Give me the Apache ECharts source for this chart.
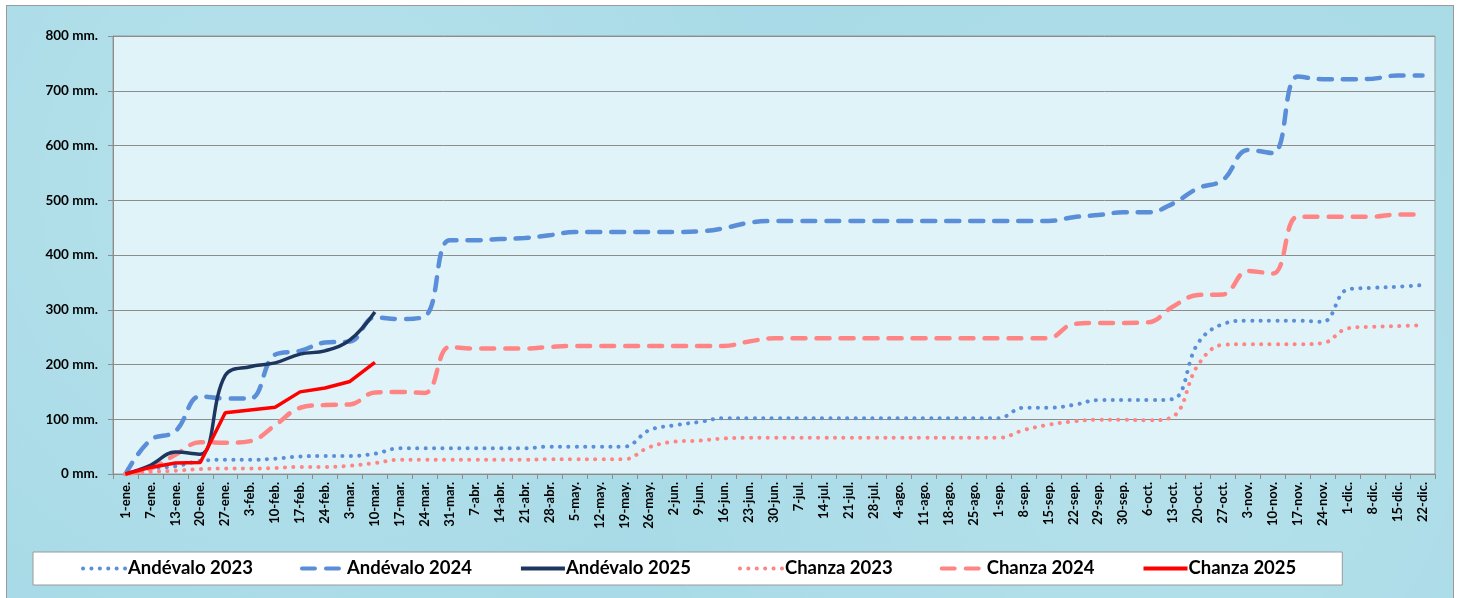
<!DOCTYPE html>
<html>
<head>
<meta charset="utf-8">
<script src="https://cdn.jsdelivr.net/npm/echarts@6/dist/echarts.min.js"></script>
<style>
html,body{margin:0;padding:0;background:#ffffff;}
#frame{position:absolute;left:6px;top:5px;width:1446px;height:600px;border:1px solid #9a9a9a;background:#a8dbe7;
 background-image:radial-gradient(circle at 20% 30%, rgba(255,255,255,0.18) 0, rgba(255,255,255,0) 40%),radial-gradient(circle at 80% 70%, rgba(255,255,255,0.15) 0, rgba(255,255,255,0) 45%);}
#chart{position:absolute;left:0;top:0;width:1459px;height:598px;}
</style>
</head>
<body>
<div id="frame"></div>
<div id="chart"></div>
<script>
const categories = ['1-ene.','7-ene.','13-ene.','20-ene.','27-ene.','3-feb.','10-feb.','17-feb.','24-feb.','3-mar.','10-mar.','17-mar.','24-mar.','31-mar.','7-abr.','14-abr.','21-abr.','28-abr.','5-may.','12-may.','19-may.','26-may.','2-jun.','9-jun.','16-jun.','23-jun.','30-jun.','7-jul.','14-jul.','21-jul.','28-jul.','4-ago.','11-ago.','18-ago.','25-ago.','1-sep.','8-sep.','15-sep.','22-sep.','29-sep.','30-sep.','6-oct.','13-oct.','20-oct.','27-oct.','3-nov.','10-nov.','17-nov.','24-nov.','1-dic.','8-dic.','15-dic.','22-dic.'];

const andevalo2023 = [0,10,14,24,26,26,28,32,33,33,37,47,47,47,47,47,47,50,50,50,50,80,89,95,102,102,102,102,102,102,102,102,102,102,102,102,121,121,126,135,135,135,137,239,274,280,280,280,278,337,340,342,345];
const andevalo2024 = [0,62,78,142,138,138,218,225,240,242,286,283,288,427,427,429,431,436,442,442,442,442,442,443,449,459,462,462,462,462,462,462,462,462,462,462,462,462,469,473,478,478,494,522,537,592,586,726,721,721,722,728,728];
const andevalo2025 = [0,16,40,36,180,196,203,219,225,245,296];
const chanza2023 = [0,4,6,9,10,10,11,13,13,15,20,26,26,26,26,26,26,27,27,27,27,49,59,61,65,66,66,66,66,66,66,66,66,66,66,66,80,90,96,99,99,98,105,199,236,237,237,237,239,266,269,270,272];
const chanza2024 = [0,10,35,58,57,60,89,121,126,127,149,150,148,232,229,229,229,232,234,234,234,234,234,234,234,242,248,248,248,248,248,248,248,248,248,248,248,248,274,276,276,277,306,327,328,371,366,470,470,470,470,474,474];
const chanza2025 = [0,12,20,21,112,117,122,150,157,169,204];

const FONT = 'Lato, "Open Sans", sans-serif';
const blue = '#5b8ed8';
const navy = '#1c3660';
const pink = '#ff8585';
const red = '#ff0000';
const dotted = {width:4, type:[0.1,8.3], cap:'round'};
const dashed = {width:4.5, type:[13,11], cap:'round'};

const chart = echarts.init(document.getElementById('chart'));
chart.setOption({
  animation:false,
  backgroundColor:'transparent',
  textStyle:{fontFamily:FONT},
  grid:{left:113, right:24, top:36, bottom:124, show:true, backgroundColor:'#e0f3f8', borderColor:'#9a9a9a', borderWidth:1},
  legend:{
    left:33, top:552,
    backgroundColor:'#ffffff', borderColor:'#9a9a9a', borderWidth:1,
    padding:[7,46,7,48], itemGap:47, itemWidth:44, itemHeight:16,
    itemStyle:{opacity:0},
    lineStyle:{width:4},
    textStyle:{fontFamily:FONT, fontWeight:'bold', fontSize:18.5, color:'#000', padding:[0,0,0,-4]},
    data:['Andévalo 2023','Andévalo 2024','Andévalo 2025','Chanza 2023','Chanza 2024','Chanza 2025']
  },
  xAxis:{
    type:'category', data:categories, boundaryGap:true,
    axisLine:{lineStyle:{color:'#8c8c8c'}},
    axisTick:{show:true, length:5, lineStyle:{color:'#8c8c8c'}},
    axisLabel:{interval:0, rotate:90, fontFamily:FONT, fontWeight:'bold', fontSize:13, color:'#000', margin:8}
  },
  yAxis:{
    type:'value', min:0, max:800, interval:100,
    axisLine:{show:true, lineStyle:{color:'#8c8c8c'}},
    axisTick:{show:true, length:5, lineStyle:{color:'#8c8c8c'}},
    splitLine:{lineStyle:{color:'#8c8c8c', width:1}},
    axisLabel:{formatter:'{value} mm.', fontFamily:FONT, fontWeight:'bold', fontSize:13.5, color:'#000', margin:15}
  },
  series:[
    {name:'Andévalo 2023', type:'line', data:andevalo2023, smooth:0.4, symbol:'none', color:blue, lineStyle:Object.assign({color:blue}, dotted), z:2},
    {name:'Andévalo 2024', type:'line', data:andevalo2024, smooth:0.4, symbol:'none', color:blue, lineStyle:Object.assign({color:blue}, dashed), z:3},
    {name:'Andévalo 2025', type:'line', data:andevalo2025, smooth:0.4, symbol:'none', color:navy, lineStyle:{color:navy, width:3.5}, z:5},
    {name:'Chanza 2023', type:'line', data:chanza2023, smooth:0.4, symbol:'none', color:pink, lineStyle:Object.assign({color:pink}, dotted), z:2},
    {name:'Chanza 2024', type:'line', data:chanza2024, smooth:0.4, symbol:'none', color:pink, lineStyle:Object.assign({color:pink}, dashed), z:3},
    {name:'Chanza 2025', type:'line', data:chanza2025, smooth:false, symbol:'none', color:red, lineStyle:{color:red, width:3.5}, z:6}
  ]
});
</script>
</body>
</html>
